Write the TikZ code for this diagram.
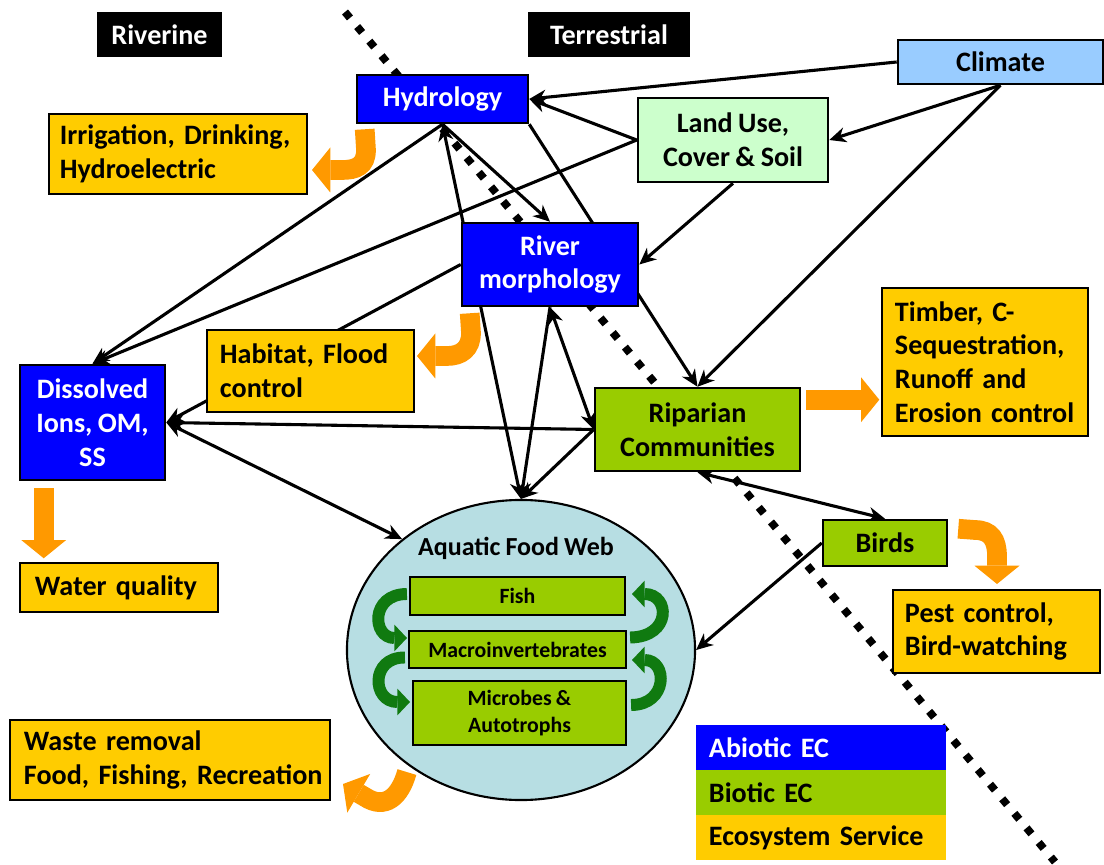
\documentclass[tikz,border=0pt]{standalone}
\usepackage{fontspec}
\setmainfont{Carlito}[WordSpace=0.85]
\usetikzlibrary{shapes.geometric,arrows.meta,calc}
\definecolor{abioblue}{HTML}{0000FF}
\definecolor{biogreen}{HTML}{99CC00}
\definecolor{servyellow}{HTML}{FFCC00}
\definecolor{climblue}{HTML}{99CCFF}
\definecolor{landgreen}{HTML}{CCFFCC}
\definecolor{webblue}{HTML}{B7DEE3}
\definecolor{flowor}{HTML}{FF9900}
\definecolor{cyclegreen}{HTML}{107A10}
\pgfdeclarelayer{back}
\pgfsetlayers{back,main}

\begin{document}
\begin{tikzpicture}[x=0.025cm, y=-0.025cm,
		box/.style={draw, line width=1.8pt, inner sep=0pt, align=center, font=\bfseries\fontsize{20}{24}\selectfont},
		abio/.style={box, fill=abioblue, text=white},
		bio/.style={box, fill=biogreen},
		serv/.style={box, fill=servyellow, align=left},
		zonetag/.style={fill=black, text=white, inner sep=0pt, font=\bfseries\fontsize{20}{24}\selectfont},
		webbox/.style={box, fill=biogreen, line width=1.5pt, font=\bfseries\fontsize{15.5}{19}\selectfont},
		legbox/.style={inner sep=0pt, minimum width=6.25cm, minimum height=1.125cm, text width=5.6cm, align=left, font=\bfseries\fontsize{20}{24}\selectfont},
		conn/.style={line width=2.2pt, -{Stealth[length=12pt, width=11pt, line width=0pt]}},
		biconn/.style={line width=2.2pt, {Stealth[length=12pt, width=11pt, line width=0pt]}-{Stealth[length=12pt, width=11pt, line width=0pt]}},
		servarrow/.style={flowor, line width=14pt, -{Triangle[length=13pt, width=32pt, line width=0pt]}},
		cycarrow/.style={cyclegreen, line width=8.5pt, -{Triangle[length=9pt, width=19pt, line width=0pt]}},
		zoneline/.style={line width=5.5pt, dash pattern=on 5.5pt off 8pt}]
	\useasboundingbox (0,0) rectangle (1104,865);
	\node[zonetag, minimum width=3.125cm, minimum height=1.125cm] (Riv)at(159.5, 34.5) {Riverine};
	\node[zonetag, minimum width=4.05cm, minimum height=1.125cm] (Ter)at(609, 34.5) {Terrestrial};
	\node[box, fill=climblue, minimum width=5.125cm, minimum height=1.1cm] (Clim)at(1000.5, 62) {Climate};
	\node[abio, minimum width=4.275cm, minimum height=1.2cm] (Hyd)at(442.5, 99) {Hydrology};
	\node[box, fill=landgreen, minimum width=4.75cm, minimum height=2.1cm] (Land)at(733, 140) {Land Use,\\Cover \& Soil};
	\node[serv, minimum width=6.45cm, minimum height=2cm, text width=5.9cm] (Irr)at(178, 154) {\mbox{Irrigation, Drinking,}\\Hydroelectric};
	\node[abio, minimum width=4.4cm, minimum height=2.075cm] (Morph)at(550, 264.5) {River\\morphology};
	\node[serv, minimum width=5.175cm, minimum height=2.05cm, text width=4.525cm] (Hab)at(310.5, 371) {Habitat, Flood\\control};
	\node[abio, minimum width=3.625cm, minimum height=2.875cm] (Diss)at(92.5, 422.5) {Dissolved\\Ions, OM,\\SS};
	\node[bio, minimum width=5.125cm, minimum height=2.075cm] (Rip)at(697.5, 429.5) {Riparian\\Communities};
	\node[serv, minimum width=5.15cm, minimum height=3.7cm, text width=4.5cm] (Timb)at(985, 362) {Timber, C-\\Sequestration,\\Runoff and\\Erosion control};
	\node[bio, minimum width=3.1cm, minimum height=1.15cm] (Birds)at(885, 543) {Birds};
	\node[serv, minimum width=5.175cm, minimum height=2.075cm, text width=4.575cm] (Pest)at(996.5, 631.5) {Pest control,\\Bird-watching};
	\node[serv, minimum width=4.95cm, minimum height=1.225cm, text width=4.2cm] (Wq)at(119, 587.5) {Water quality};
	\node[draw, ellipse, line width=1.5pt, fill=webblue, inner sep=0pt, minimum width=8.7cm, minimum height=7.5cm] (Web)at(521, 650) {};
	\node[font=\bfseries\fontsize{18.5}{22}\selectfont] (WebT)at(516, 548) {Aquatic Food Web};
	\node[webbox, minimum width=5.375cm, minimum height=0.95cm] (Fish)at(517.5, 596) {Fish};
	\node[webbox, minimum width=5.425cm, minimum height=0.925cm] (Mac)at(517.5, 649.5) {Macroinvertebrates};
	\node[webbox, minimum width=5.325cm, minimum height=1.6cm] (Mic)at(519.5, 713) {Microbes \&\\Autotrophs};
	\node[serv, minimum width=8cm, minimum height=2cm, text width=7.3cm] (Waste)at(170, 760) {Waste removal\\\mbox{Food, Fishing, Recreation}};
	\node[legbox, fill=abioblue, text=white] (LegA)at(821, 747.5) {Abiotic EC};
	\node[legbox, fill=biogreen] (LegB)at(821, 792.5) {Biotic EC};
	\node[legbox, fill=servyellow] (LegS)at(821, 837.5) {Ecosystem Service};
	\begin{pgfonlayer}{back}
		\draw[zoneline] (345, 12) -- (1055, 862);
		\draw[conn] (Clim.west) -- (Hyd.east);
		\draw[conn] (Land.west) -- (Hyd.east);
		\draw[conn] (Clim.south) -- (Land.east);
		\draw[conn] (Clim.south) -- (Rip.north);
		\draw[conn] (Land.south) -- (Morph.east);
		\draw[conn] (Land.west) -- (Diss.north);
		\draw[conn] (Hyd.south) -- (Diss.north);
		\draw[conn] (Hyd.south) -- (Morph.north);
		\draw[biconn] (Hyd.south) -- (Web.north);
		\draw[conn] (Morph.south) -- (Web.north);
		\draw[biconn] (Morph.south) -- (Rip.west);
		\draw[conn] (Hyd.south east) -- (Rip.north);
		\draw[conn] (Morph.west) -- (Diss.east);
		\draw[conn] (Rip.west) -- (Diss.east);
		\draw[biconn] (Diss.east) -- (Web.137);
		\draw[conn] (Rip.west) -- (Web.north);
		\draw[biconn] (Rip.south) -- (Birds.north);
		\draw[conn] (Birds.west) -- (Web.east);
	\end{pgfonlayer}
	\draw[servarrow] ($(Hyd.south west)+(9,5)$) -- (366, 150) .. controls (366, 166) and (356, 170) .. (342, 170) -- (312, 170);
	\draw[servarrow] ($(Morph.south west)+(9,6)$) -- (471, 333) .. controls (471, 349) and (461, 356) .. (447, 356) -- (417, 356);
	\draw[servarrow] ($(Rip.north east)+(5,13)$) -- ++(73,0);
	\draw[servarrow] ($(Birds.north east)+(10,10)$) -- (975, 530) .. controls (991, 530) and (997, 540) .. (997, 556) -- (997, 584);
	\draw[servarrow] ($(Diss.south west)+(25,7)$) -- ++(0,70);
	\draw[servarrow] ($(Web.226)+(-2,6)$) .. controls (400, 797) and (385, 810) .. (365, 797) -- (343, 784);
	\draw[cycarrow] ($(Fish.west)+(-2,-2)$) .. controls (370, 594) and (372, 638) .. (407, 638);
	\draw[cycarrow] ($(Mac.west)+(-3,8)$) .. controls (370, 657) and (372, 702) .. (410, 702);
	\draw[cycarrow] ($(Mac.east)+(3,-12)$) .. controls (672, 637) and (670, 594) .. (632, 594);
	\draw[cycarrow] ($(Mic.east)+(4,-8)$) .. controls (668, 705) and (668, 660) .. (632, 660);
\end{tikzpicture}
\end{document}
